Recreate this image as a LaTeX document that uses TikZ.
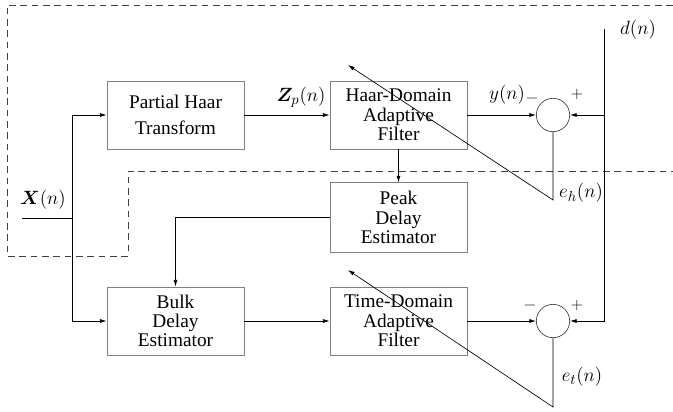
\documentclass[tikz,border=0pt]{standalone}
\usepackage{amsmath}
\usepackage{bm}
\usepackage{fontspec}
\setmainfont{Liberation Serif}
\usetikzlibrary{arrows.meta}
\tikzset{
  blk/.style={draw=black!50, line width=0.6pt, minimum width=102.75pt, minimum height=51pt, inner sep=0pt, align=center, font=\fontsize{14.5}{14.5}\selectfont},
  sumc/.style={draw=black!75, line width=0.5pt, circle, minimum size=25pt, inner sep=0pt},
  conn/.style={line width=0.5pt, -{Latex[length=5pt,width=3pt]}},
  wire/.style={line width=0.5pt},
  lbl/.style={inner sep=0pt, font=\fontsize{15}{16}\selectfont},
  sgn/.style={inner sep=0pt, font=\sffamily\fontsize{12}{12}\selectfont},
  bnd/.style={draw=black!75, line width=0.5pt, dash pattern=on 5pt off 3.5pt}
}
\begin{document}
\begin{tikzpicture}[x=0.75pt,y=-0.75pt]
\useasboundingbox (0,0) rectangle (673,411);
% dashed boundary
\draw[bnd] (673,5) -- (7,5) -- (7,256) -- (128,256) -- (128,171) -- (673,171);
% blocks
\node[blk] (pht) at (175.5,115) {Partial Haar\\[5pt]Transform};
\node[blk] (haar) at (398.5,115) {Haar-Domain\\Adaptive\\Filter};
\node[blk, minimum height=52pt] (peak) at (398.5,217.5) {Peak\\Delay\\Estimator};
\node[blk] (bulk) at (175.5,321) {Bulk\\Delay\\Estimator};
\node[blk] (time) at (398.5,321) {Time-Domain\\Adaptive\\Filter};
\node[sumc] (s1) at (553,115) {};
\node[sumc] (s2) at (553,321) {};
% coordinates
\coordinate (xin) at (22,218);
\coordinate (xj) at (72,218);
\coordinate (dtop) at (604,29);
\coordinate (eh) at (553,200);
\coordinate (ehtip) at (348,65);
\coordinate (et) at (553,407);
\coordinate (ettip) at (348,270);
% connectors
\draw[wire] (xin) -- (xj);
\draw[conn] (xj) |- (pht.west);
\draw[conn] (xj) |- (bulk.west);
\draw[conn] (pht.east) -- (haar.west);
\draw[conn] (haar.east) -- (s1.west);
\draw[conn] (dtop) |- (s1.east);
\draw[conn] (dtop) |- (s2.east);
\draw[conn] (haar.south) -- (peak.north);
\draw[conn] (peak.west) -| (bulk.north);
\draw[conn] (bulk.east) -- (time.west);
\draw[conn] (time.east) -- (s2.west);
\draw[conn] (s1.south) -- (eh) -- (ehtip);
\draw[conn] (s2.south) -- (et) -- (ettip);
% labels
\node[lbl] (lx) at (43,200) {$\bm{X}(n)$};
\node[lbl] (lz) at (301,97) {$\bm{Z}_p(n)$};
\node[lbl] (ly) at (507,95) {$y(n)$};
\node[lbl] (ld) at (638,30) {$d(n)$};
\node[lbl] (leh) at (581,193) {$e_h(n)$};
\node[lbl] (let) at (582,377) {$e_t(n)$};
\node[sgn] (m1) at (532,100) {\textminus};
\node[sgn] (p1) at (577,95) {+};
\node[sgn] (m2) at (530,307) {\textminus};
\node[sgn] (p2) at (577,305) {+};
\end{tikzpicture}
\end{document}
